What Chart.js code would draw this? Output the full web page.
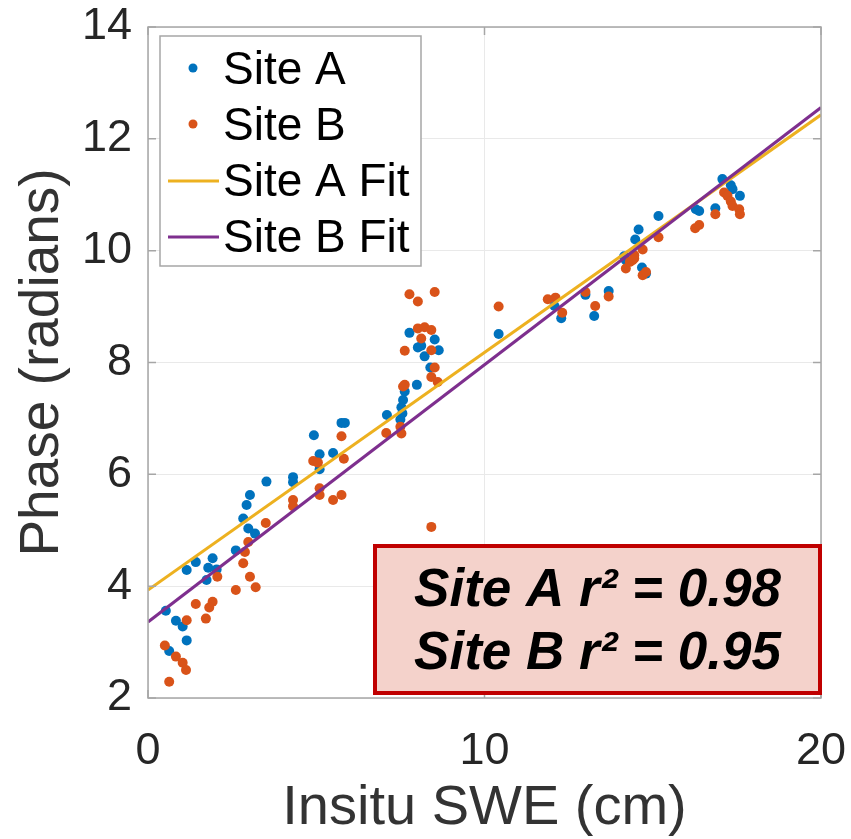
<!DOCTYPE html>
<html lang="en">
<head>
<meta charset="UTF-8" />
<title>Phase vs Insitu SWE</title>
<script src="https://cdn.jsdelivr.net/npm/chart.js"></script>
<style>
  html, body { margin: 0; padding: 0; background: #fff; }
  .chart-container { position: relative; width: 851px; height: 839px; }
</style>
</head>
<body>
<div class="chart-container"><canvas id="swePhaseChart"></canvas></div>
<script>
// Site A measurements (SWE cm, phase rad)
const siteA_x = [3.52, 4.31, 4.31, 3.03, 2.93, 2.83, 2.98, 3.18, 2.61, 1.92, 1.79, 2.04, 1.42, 1.15, 1.74,
  0.53, 0.83, 1.03, 1.15, 0.63, 7.10, 5.75, 5.85, 4.93, 5.50, 5.10, 5.10,
  7.77, 8.02, 8.12, 8.52, 8.64, 8.22, 8.39, 7.99, 7.63, 7.58, 7.53, 7.56, 7.50,
  10.42, 12.08, 12.28, 13.00, 13.26, 13.69, 14.68, 14.80, 14.20,
  17.07, 17.32, 17.37, 17.59, 16.28, 16.38, 16.86, 15.17, 14.58, 14.48, 14.15];
const siteA_y = [5.87, 5.95, 5.86, 5.63, 5.45, 5.21, 5.03, 4.94, 4.64, 4.50, 4.33, 4.30, 4.43, 4.29, 4.11,
  3.56, 3.38, 3.28, 3.03, 2.84, 7.06, 6.92, 6.92, 6.70, 6.38, 6.36, 6.09,
  8.53, 8.27, 8.30, 8.41, 8.22, 8.11, 7.91, 7.60, 7.48, 7.33, 7.20, 7.09, 6.98,
  8.51, 9.01, 8.79, 9.21, 8.83, 9.28, 9.70, 9.59, 9.83,
  11.28, 11.17, 11.10, 10.98, 10.74, 10.71, 10.76, 10.62, 10.38, 10.20, 9.90];

// Site B measurements
const siteB_x = [4.31, 4.31, 5.10, 5.10, 3.50, 2.98, 2.88, 2.83, 2.06, 3.03, 3.20, 2.61, 1.92, 1.82, 1.42,
  1.72, 1.15, 0.50, 0.83, 1.03, 1.13, 0.63, 7.08, 5.75, 4.91, 5.05, 5.82, 5.50, 5.75,
  7.77, 8.02, 8.52, 8.02, 8.22, 8.42, 8.12, 8.42, 7.63, 8.52, 8.42, 8.61, 7.63, 7.58, 7.50, 7.53, 8.42,
  10.42, 11.88, 12.11, 12.31, 13.00, 13.29, 13.69, 14.20, 14.32, 14.45, 14.70, 14.80,
  17.12, 17.22, 17.32, 17.37, 17.57, 17.59, 16.86, 16.26, 16.38, 15.17, 14.70, 14.45, 14.40];
const siteB_y = [5.54, 5.43, 5.75, 5.63, 5.13, 4.79, 4.61, 4.41, 4.17, 4.17, 3.98, 3.93, 3.72, 3.62, 3.68,
  3.42, 3.39, 2.94, 2.74, 2.63, 2.50, 2.29, 6.74, 6.68, 6.24, 6.21, 6.28, 5.54, 5.63,
  9.22, 9.09, 9.26, 8.61, 8.63, 8.58, 8.43, 8.22, 8.21, 7.91, 7.74, 7.65, 7.60, 7.57, 6.85, 6.73, 5.06,
  9.00, 9.13, 9.16, 8.89, 9.26, 9.01, 9.18, 9.68, 9.80, 9.86, 9.56, 9.62,
  11.04, 10.98, 10.88, 10.80, 10.74, 10.65, 10.65, 10.40, 10.46, 10.24, 10.02, 9.92, 9.83];

// linear fit end points
const fitX = [0, 20];
const fitA_y = [3.93, 12.43];
const fitB_y = [3.36, 12.56];

const xTicks = [0, 10, 20];
const yTicks = [2, 4, 6, 8, 10, 12, 14];
const statLines = ["Site A r\u00b2 = 0.98", "Site B r\u00b2 = 0.95"];

const toPts = (xs, ys) => xs.map((x, i) => ({ x: x, y: ys[i] }));

const FONT = "'Liberation Sans', Arial, Helvetica, sans-serif";

// box, inward ticks, r^2 annotation and legend drawn on top of the plot
const framePlugin = {
  id: "frame",
  afterDatasetsDraw(chart) {
    const { ctx, chartArea: a, scales } = chart;
    ctx.save();

    ctx.strokeStyle = "#a6a6a6";
    ctx.lineWidth = 1.5;
    ctx.strokeRect(a.left, a.top, a.right - a.left, a.bottom - a.top);
    ctx.beginPath();
    yTicks.forEach((v) => {
      const y = scales.y.getPixelForValue(v);
      ctx.moveTo(a.left, y); ctx.lineTo(a.left + 8, y);
      ctx.moveTo(a.right, y); ctx.lineTo(a.right - 8, y);
    });
    xTicks.forEach((v) => {
      const x = scales.x.getPixelForValue(v);
      ctx.moveTo(x, a.bottom); ctx.lineTo(x, a.bottom - 8);
      ctx.moveTo(x, a.top); ctx.lineTo(x, a.top + 8);
    });
    ctx.stroke();

    // r^2 box
    const bx = 375, by = 546, bw = 445, bh = 147;
    ctx.fillStyle = "#f4d2cb";
    ctx.fillRect(bx, by, bw, bh);
    ctx.strokeStyle = "#c00000";
    ctx.lineWidth = 4;
    ctx.strokeRect(bx, by, bw, bh);
    ctx.fillStyle = "#000";
    ctx.font = "italic bold 53px " + FONT;
    ctx.textAlign = "center";
    ctx.textBaseline = "alphabetic";
    ctx.fillText(statLines[0], bx + bw / 2, 606);
    ctx.fillText(statLines[1], bx + bw / 2, 669);

    // legend
    const lx = 160, ly = 36, lw = 261, lh = 230;
    ctx.fillStyle = "#fff";
    ctx.fillRect(lx, ly, lw, lh);
    ctx.strokeStyle = "#a6a6a6";
    ctx.lineWidth = 1.5;
    ctx.strokeRect(lx, ly, lw, lh);
    ctx.font = "46px " + FONT;
    ctx.textAlign = "left";
    ctx.textBaseline = "middle";
    chart.data.datasets.forEach((ds, i) => {
      const cy = 69 + i * 56;
      if (ds.showLine) {
        ctx.strokeStyle = ds.borderColor;
        ctx.lineWidth = 3;
        ctx.beginPath();
        ctx.moveTo(168, cy); ctx.lineTo(219, cy);
        ctx.stroke();
      } else {
        ctx.fillStyle = ds.backgroundColor;
        ctx.beginPath();
        ctx.arc(193, cy - 1, 4.5, 0, Math.PI * 2);
        ctx.fill();
      }
      ctx.fillStyle = "#000";
      ctx.fillText(ds.label, 223, cy + 2);
    });
    ctx.restore();
  },
};

const ctx = document.getElementById("swePhaseChart").getContext("2d");
new Chart(ctx, {
  type: "scatter",
  data: {
    datasets: [
      { label: "Site A", data: toPts(siteA_x, siteA_y), backgroundColor: "#0072bd", borderColor: "#0072bd",
        pointRadius: 5, borderWidth: 0, showLine: false, order: 4 },
      { label: "Site B", data: toPts(siteB_x, siteB_y), backgroundColor: "#d95319", borderColor: "#d95319",
        pointRadius: 5, borderWidth: 0, showLine: false, order: 3 },
      { label: "Site A Fit", data: toPts(fitX, fitA_y), borderColor: "#edb120", backgroundColor: "#edb120",
        showLine: true, pointRadius: 0, borderWidth: 3, order: 2 },
      { label: "Site B Fit", data: toPts(fitX, fitB_y), borderColor: "#7e2f8e", backgroundColor: "#7e2f8e",
        showLine: true, pointRadius: 0, borderWidth: 3, order: 1 },
    ],
  },
  options: {
    responsive: true,
    maintainAspectRatio: false,
    animation: false,
    layout: { padding: { top: 27, right: 30, left: 0, bottom: 0 } },
    plugins: { legend: { display: false }, tooltip: { enabled: false } },
    scales: {
      x: {
        type: "linear",
        min: 0, max: 20,
        afterBuildTicks: (s) => { s.ticks = xTicks.map((v) => ({ value: v })); },
        afterFit: (s) => { s.height = 141; s.paddingLeft = 0; s.paddingRight = 0; },
        grid: { color: "#e9e9e9", lineWidth: 1, drawTicks: false },
        border: { display: false },
        ticks: { color: "#262626", font: { family: FONT, size: 45 }, padding: 27, maxRotation: 0 },
        title: { display: true, text: "Insitu SWE (cm)", color: "#333",
          font: { family: FONT, size: 56, lineHeight: 1 }, padding: { top: 0, bottom: 2 } },
      },
      y: {
        type: "linear",
        min: 2, max: 14,
        afterBuildTicks: (s) => { s.ticks = yTicks.map((v) => ({ value: v })); },
        afterFit: (s) => { s.width = 148; s.paddingTop = 0; s.paddingBottom = 0; },
        grid: { color: "#e9e9e9", lineWidth: 1, drawTicks: false },
        border: { display: false },
        ticks: { color: "#262626", font: { family: FONT, size: 45 }, padding: 16 },
        title: { display: true, text: "Phase (radians)", color: "#333",
          font: { family: FONT, size: 55, lineHeight: 1 }, padding: { top: 15, bottom: 0 } },
      },
    },
  },
  plugins: [framePlugin],
});
</script>
</body>
</html>
